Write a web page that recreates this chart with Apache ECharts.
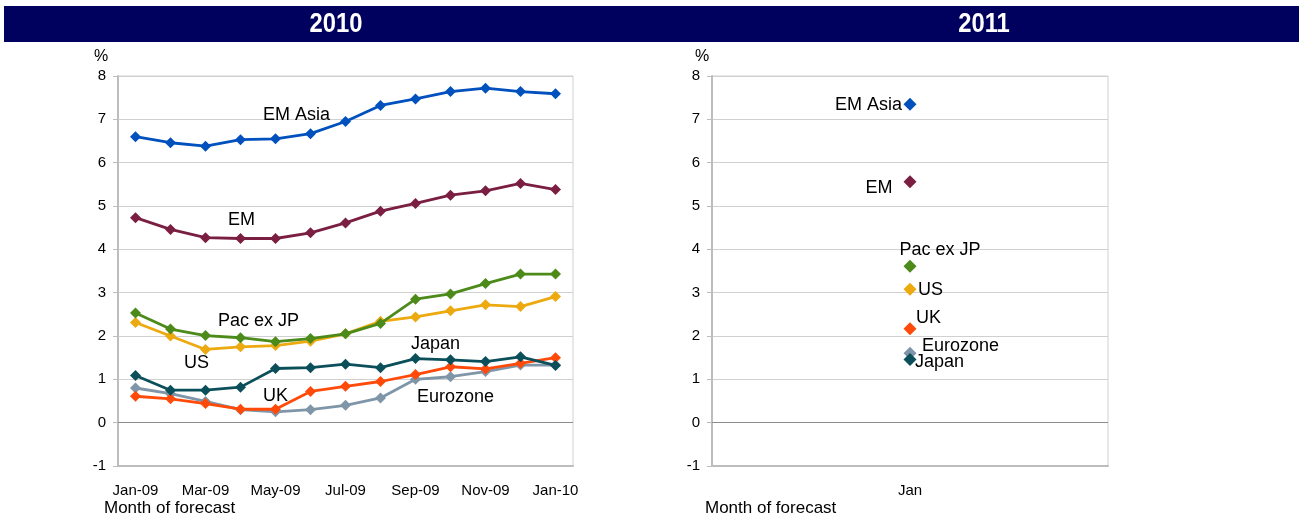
<!DOCTYPE html>
<html><head><meta charset="utf-8">
<script src="https://cdn.jsdelivr.net/npm/echarts@6/dist/echarts.min.js"></script>
<style>html,body{margin:0;padding:0;background:#fff}#c{width:1299px;height:520px}</style>
</head><body><div id="c"></div>
<script>
var months = ['Jan-09','Feb-09','Mar-09','Apr-09','May-09','Jun-09','Jul-09','Aug-09','Sep-09','Oct-09','Nov-09','Dec-09','Jan-10'];
var months2011 = ['Jan'];
var yTicks = [-1, 8, 1];
var names = ['EM Asia','EM','Pac ex JP','US','Japan','UK','Eurozone'];
var emAsia2010 = [6.60,6.46,6.38,6.53,6.55,6.67,6.95,7.32,7.47,7.64,7.72,7.64,7.59];
var em2010     = [4.73,4.46,4.27,4.25,4.25,4.38,4.61,4.88,5.06,5.25,5.35,5.52,5.38];
var pac2010    = [2.53,2.16,2.01,1.96,1.87,1.94,2.05,2.29,2.85,2.97,3.21,3.43,3.43];
var us2010     = [2.31,2.00,1.69,1.75,1.78,1.88,2.05,2.34,2.44,2.58,2.72,2.68,2.91];
var japan2010  = [1.09,0.75,0.75,0.82,1.25,1.27,1.35,1.27,1.48,1.45,1.41,1.52,1.32];
var uk2010     = [0.61,0.55,0.44,0.31,0.31,0.72,0.84,0.95,1.11,1.29,1.24,1.37,1.50];
var euro2010   = [0.80,0.67,0.49,0.30,0.25,0.30,0.40,0.57,1.00,1.06,1.18,1.33,1.33];
var emAsia2011 = [7.35];
var em2011     = [5.56];
var pac2011    = [3.61];
var us2011     = [3.08];
var japan2011  = [1.46];
var uk2011     = [2.17];
var euro2011   = [1.60];

var colors = ['#0050BE','#7A1E42','#4C8A1A','#ECAA10','#0B4F5A','#FF4A0A','#7F95A8'];
var left = [emAsia2010, em2010, pac2010, us2010, japan2010, uk2010, euro2010];
var right = [emAsia2011, em2011, pac2011, us2011, japan2011, uk2011, euro2011];
// annotation placement (style only)
var leftLab = [
  {i:4, off:[21,-24]},
  {i:3, off:[1,-18]},
  {i:3, off:[18,-17]},
  {i:2, off:[-9,14]},
  {i:8, off:[20,-15]},
  {i:4, off:[0,-13]},
  {i:9, off:[5,20]}
];
var rightLab = [
  {align:'right', off:[-8,1]},
  {align:'center', off:[-31,6]},
  {align:'center', off:[30,-16]},
  {align:'left', off:[8,1]},
  {align:'left', off:[5,3]},
  {align:'left', off:[6,-11]},
  {align:'left', off:[12,-7]}
];
var font = 'Liberation Sans, Arial, sans-serif';

var series = [];
names.forEach(function(n, k){
  var d = left[k].map(function(v, j){
    if (j === leftLab[k].i) {
      return {value:v, label:{show:true, formatter:n, position:'inside', offset:leftLab[k].off, align:'center', verticalAlign:'middle', color:'#000', fontFamily:font, fontSize:18}};
    }
    return v;
  });
  var s = {name:n, type:'line', xAxisIndex:0, yAxisIndex:0, data:d, symbol:'diamond', symbolSize:11,
    lineStyle:{color:colors[k], width:2.8}, itemStyle:{color:colors[k]}, z: 10 - k, animation:false, label:{show:false}};
  if (k === 0) {
    s.markLine = {silent:true, symbol:'none', label:{show:false}, lineStyle:{color:'#8C8C8C', width:1, type:'solid'}, data:[{yAxis:0}], animation:false};
  }
  series.push(s);
});
names.forEach(function(n, k){
  var d = right[k].map(function(v){
    return {value:v, label:{show:true, formatter:n, position:'inside', offset:rightLab[k].off, align:rightLab[k].align, verticalAlign:'middle', color:'#000', fontFamily:font, fontSize:18}};
  });
  var s = {name:n+' 2011', type:'scatter', xAxisIndex:1, yAxisIndex:1, data:d, symbol:'diamond', symbolSize:13,
    itemStyle:{color:colors[k], opacity:1}, z: 10 - k, animation:false};
  if (k === 0) {
    s.markLine = {silent:true, symbol:'none', label:{show:false}, lineStyle:{color:'#8C8C8C', width:1, type:'solid'}, data:[{yAxis:0}], animation:false};
  }
  series.push(s);
});

function yAx(gi){
  return {gridIndex:gi, type:'value', min:yTicks[0], max:yTicks[1], interval:yTicks[2],
    axisLine:{show:true, lineStyle:{color:'#BDBDBD', width:2}},
    axisTick:{show:true, length:5, lineStyle:{color:'#BDBDBD'}},
    axisLabel:{color:'#000', fontFamily:font, fontSize:15, margin:12},
    splitLine:{show:true, lineStyle:{color:'#D0D0D0', width:1}}};
}
function xAx(gi, data){
  return {gridIndex:gi, type:'category', data:data, boundaryGap:true,
    axisLine:{show:true, onZero:false, lineStyle:{color:'#BDBDBD', width:2}},
    axisTick:{show:false},
    axisLabel:{color:'#000', fontFamily:font, fontSize:15, margin:17, interval:1},
    splitLine:{show:false}};
}

var chart = echarts.init(document.getElementById('c'), null, {renderer:'canvas'});
chart.setOption({
  backgroundColor:'#fff',
  animation:false,
  grid:[
    {left:118, right:726, top:76, bottom:54, show:true, borderColor:'#D0D0D0', borderWidth:1},
    {left:712, right:191, top:76, bottom:54, show:true, borderColor:'#D0D0D0', borderWidth:1}
  ],
  xAxis:[xAx(0, months), xAx(1, months2011)],
  yAxis:[yAx(0), yAx(1)],
  graphic:[
    {type:'rect', left:4, top:6, shape:{width:1295, height:36}, style:{fill:'#00005E'}, silent:true},
    {type:'text', x:336, y:24, scaleX:0.85, style:{text:'2010', fill:'#fff', font:'bold 28px "Liberation Sans", Arial', textAlign:'center', textVerticalAlign:'middle'}},
    {type:'text', x:984, y:24, scaleX:0.85, style:{text:'2011', fill:'#fff', font:'bold 28px "Liberation Sans", Arial', textAlign:'center', textVerticalAlign:'middle'}},
    {type:'text', x:101, y:57, style:{text:'%', fill:'#000', font:'16px "Liberation Sans", Arial', textAlign:'center', textVerticalAlign:'middle'}},
    {type:'text', x:702, y:57, style:{text:'%', fill:'#000', font:'16px "Liberation Sans", Arial', textAlign:'center', textVerticalAlign:'middle'}},
    {type:'text', x:104, y:508, style:{text:'Month of forecast', fill:'#000', font:'17px "Liberation Sans", Arial', textAlign:'left', textVerticalAlign:'middle'}},
    {type:'text', x:705, y:508, style:{text:'Month of forecast', fill:'#000', font:'17px "Liberation Sans", Arial', textAlign:'left', textVerticalAlign:'middle'}}
  ],
  series:series
});
</script></body></html>
